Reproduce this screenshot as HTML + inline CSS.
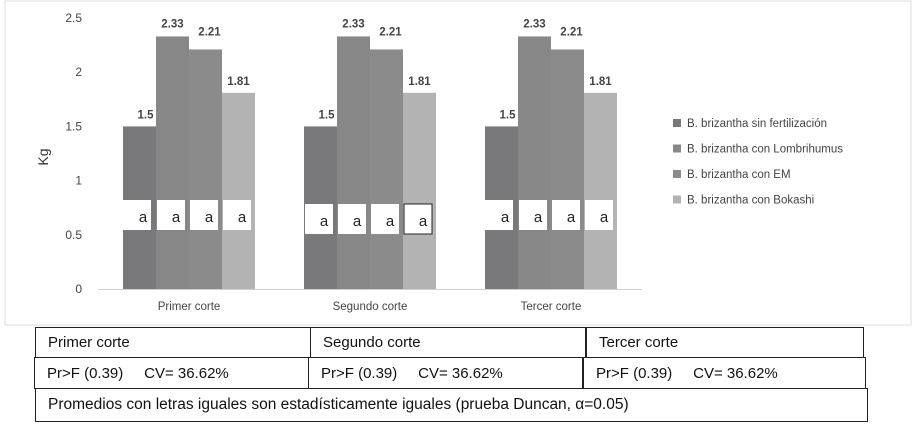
<!DOCTYPE html>
<html><head><meta charset="utf-8"><style>
body{margin:0;background:#fff;width:918px;height:444px;overflow:hidden;font-family:"Liberation Sans",sans-serif}
.c{position:absolute;border:1px solid #222;box-sizing:border-box;font-size:15px;color:#111;padding-left:12px;display:flex;align-items:center;white-space:nowrap}
</style></head><body>
<div style="position:relative;width:918px;height:444px">
<svg width="918" height="444" style="position:absolute;left:0;top:0">
<rect x="5" y="1" width="906" height="324" fill="#fff" stroke="#ddd"/>
<g id="g"></g>
<text x="48" y="157" transform="rotate(-90 48 157)" font-size="14" fill="#333" text-anchor="middle">Kg</text>
</svg>
<div class="c" style="left:35px;top:327px;width:276px;height:31px">Primer corte</div>
<div class="c" style="left:310px;top:327px;width:276px;height:31px">Segundo corte</div>
<div class="c" style="left:586px;top:327px;width:278px;height:31px">Tercer corte</div>
<div class="c" style="left:34px;top:357px;width:275px;height:32px">Pr&gt;F (0.39)&nbsp;&nbsp;&nbsp;&nbsp; CV= 36.62%</div>
<div class="c" style="left:308px;top:357px;width:275px;height:32px">Pr&gt;F (0.39)&nbsp;&nbsp;&nbsp;&nbsp; CV= 36.62%</div>
<div class="c" style="left:583px;top:357px;width:283px;height:32px">Pr&gt;F (0.39)&nbsp;&nbsp;&nbsp;&nbsp; CV= 36.62%</div>
<div class="c" style="left:35px;top:388px;width:833px;height:34px;font-size:15.5px">Promedios con letras iguales son estadísticamente iguales (prueba Duncan, α=0.05)</div>
</div>
<script>
const categories=["Primer corte","Segundo corte","Tercer corte"];
const seriesNames=["B. brizantha sin fertilización","B. brizantha con Lombrihumus","B. brizantha con EM","B. brizantha con Bokashi"];
const values=[[1.5,2.33,2.21,1.81],[1.5,2.33,2.21,1.81],[1.5,2.33,2.21,1.81]];
const labels=["1.5","2.33","2.21","1.81"];
const letters=[["a","a","a","a"],["a","a","a","a"],["a","a","a","a"]];
const ticks=[0,0.5,1,1.5,2,2.5];
const colors=["#79797b","#878788","#8b8b8c","#b3b3b4"];
const NS="http://www.w3.org/2000/svg",g=document.getElementById('g');
const y=v=>289-v*108.4;
const bw=33, catC=i=>189+i*181;
function mk(t,a,txt){const e=document.createElementNS(NS,t);for(const k in a)e.setAttribute(k,a[k]);if(txt!=null)e.textContent=txt;g.appendChild(e);return e;}
ticks.forEach(t=>{const e=mk('text',{x:82,y:y(t)+4,'font-size':12,fill:'#444','text-anchor':'end'},String(t));

});
const ax=mk('line',{x1:98,x2:642,y1:289.5,y2:289.5,stroke:'#d0d0d0'});


categories.forEach((c,i)=>{
 const x0=catC(i)-2*bw;
 values[i].forEach((v,j)=>{
  const r=mk('rect',{x:x0+j*bw,y:y(v),width:bw,height:289-y(v),fill:colors[j]});
  
  
  const l=mk('text',{x:x0+j*bw+(j==0?6:j==1?0:j==2?0:0)+bw/2,y:y(v)-8-(j==1?0:0),'font-size':11.5,'font-weight':'bold',fill:'#444','text-anchor':'middle'},labels[j]);
  if(j==2)l.setAttribute('x',x0+j*bw+bw/2+4);
  if(j==2)l.setAttribute('y',y(v)-14);
  if(j==1)l.setAttribute('y',y(v)-9);
  
  
  const by=i==1?204:200;
  const b=mk('rect',{x:x0+j*bw+(j==0&&i!=1?0:1),y:by,width:28,height:30,fill:'#fff',stroke:(i==1&&j==3)?'#222':'none'});
  
  
  const t=mk('text',{x:x0+j*bw+20,y:by+22,'font-size':15,fill:'#222','text-anchor':'middle'},letters[i][j]);
  
  
 });
 const cl=mk('text',{x:catC(i),y:310,'font-size':11.5,fill:'#444','text-anchor':'middle'},c);
 
 
});
seriesNames.forEach((s,j)=>{
 const yy=124+j*25.5;
 const sq=mk('rect',{x:673,y:yy-5,width:8,height:8,fill:colors[j]});
 
 
 const t=mk('text',{x:687,y:yy+3,'font-size':11.5,fill:'#444'},s);
 
 
});
</script>
</body></html>
